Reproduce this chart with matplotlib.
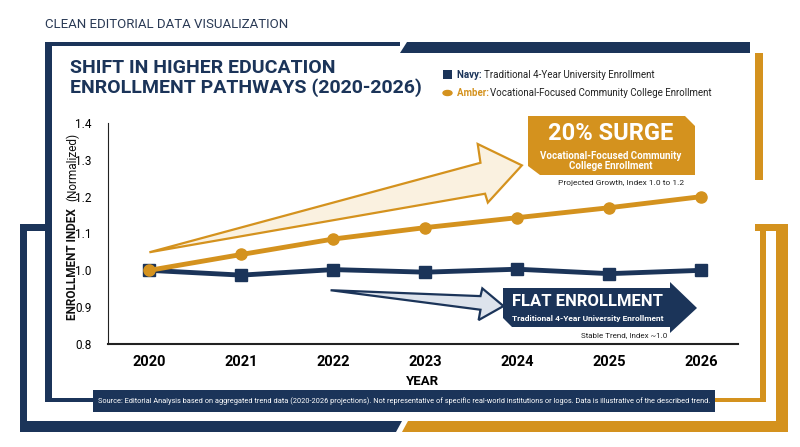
import matplotlib
matplotlib.use("Agg")
import matplotlib.pyplot as plt
from matplotlib.patches import Polygon, Rectangle

years = [2020, 2021, 2022, 2023, 2024, 2025, 2026]
navy_values = [1.000, 0.987, 1.002, 0.995, 1.003, 0.991, 1.000]
amber_values = [1.000, 1.043, 1.085, 1.116, 1.143, 1.170, 1.200]
y_ticks = [0.8, 0.9, 1.0, 1.1, 1.2, 1.3, 1.4]

NAVY = "#1b3459"
AMBER = "#d4921e"
plt.rcParams["font.family"] = ["Roboto", "DejaVu Sans"]

W, H = 800, 447
fig = plt.figure(figsize=(8, 4.47), dpi=100)


def fx(x):
    return x / W


def fy(y):
    return 1 - y / H


def fig_poly(pts, z=-1, **kw):
    fig.patches.append(Polygon([(fx(x), fy(y)) for x, y in pts], closed=True,
                               transform=fig.transFigure, zorder=z, **kw))


def fig_rect(x0, y0, x1, y1, color, z=-1):
    fig.patches.append(Rectangle((fx(x0), fy(y1)), (x1 - x0) / W, (y1 - y0) / H,
                                 transform=fig.transFigure, color=color, lw=0, zorder=z))


# frame pieces
fig_rect(45, 42, 400, 46, NAVY)
fig_poly([(407, 42), (750, 42), (750, 53), (400, 53)], facecolor=NAVY, lw=0)
fig_rect(45, 42, 52, 402, NAVY)
fig_rect(45, 398, 400, 402, NAVY)
fig_rect(755, 53, 763, 180, AMBER)
fig_rect(20, 224, 27, 432, NAVY)
fig_rect(20, 224, 45, 231, NAVY)
fig_poly([(20, 421), (402, 421), (396, 432), (20, 432)], facecolor=NAVY, lw=0)
fig_poly([(408, 421), (788, 421), (788, 432), (402, 432)], facecolor=AMBER, lw=0)
fig_rect(776, 224, 788, 432, AMBER)
fig_rect(755, 224, 788, 231, AMBER)
fig_rect(760, 231, 766, 402, AMBER)
fig_rect(620, 398, 766, 402, AMBER)

# header texts
fig.text(fx(45), fy(25), "CLEAN EDITORIAL DATA VISUALIZATION", color="#2a3a55",
         fontsize=9.5, va="center", ha="left")
fig.text(fx(70), fy(78), "SHIFT IN HIGHER EDUCATION\nENROLLMENT PATHWAYS (2020-2026)",
         color=NAVY, fontsize=14, fontweight="bold", va="center", ha="left",
         linespacing=1.05)

# legend
fig_rect(443, 70, 452, 79, NAVY, z=5)
fig.text(fx(457), fy(75), "Navy: ", color=NAVY, fontsize=7, fontweight="bold", va="center")
fig.text(fx(484), fy(75), "Traditional 4-Year University Enrollment", color="#222222",
         fontsize=7, va="center")
fig.patches.append(plt.Circle((fx(447.5), fy(93)), 4.5 / W, transform=fig.transFigure,
                              color=AMBER))
fig.text(fx(457), fy(93), "Amber: ", color=AMBER, fontsize=7, fontweight="bold", va="center")
fig.text(fx(490), fy(93), "Vocational-Focused Community College Enrollment", color="#222222",
         fontsize=7, va="center")

# main axes
ax = fig.add_axes([fx(108), fy(344), (738 - 108) / W, (344 - 123) / H])
ax.set_facecolor("none")
ax.set_xlim(2019.55, 2026.4)
ax.set_ylim(0.8, 1.4)
ax.set_yticks(y_ticks)
ax.set_yticklabels([f"{v:.1f}" for v in y_ticks], fontsize=8.5)
ax.set_xticks(years)
ax.set_xticklabels([str(y) for y in years], fontsize=10.5, fontweight="bold")
for s in ["top", "right"]:
    ax.spines[s].set_visible(False)
ax.spines["left"].set_color("#222222")
ax.spines["bottom"].set_color("#222222")
ax.spines["bottom"].set_linewidth(1.5)
ax.tick_params(length=0, pad=8)
ax.tick_params(axis="y", pad=12)
ax.set_xlabel("YEAR", fontsize=9.5, fontweight="bold", labelpad=4)

# annotation arrows (data coords)
amber_arrow = [(2020.0, 1.049), (2023.60, 1.292), (2023.57, 1.343), (2024.05, 1.285),
               (2023.68, 1.184), (2023.65, 1.208)]
ax.add_patch(Polygon(amber_arrow, closed=True, facecolor="#faf1e0", edgecolor=AMBER, lw=1.6,
                     zorder=1))
navy_arrow = [(2021.97, 0.946), (2023.60, 0.930), (2023.62, 0.951), (2023.85, 0.903),
              (2023.58, 0.865), (2023.60, 0.893)]
ax.add_patch(Polygon(navy_arrow, closed=True, facecolor="#dde3ec", edgecolor=NAVY, lw=1.6,
                     zorder=1))

ax.plot(years, navy_values, color=NAVY, lw=3.5, marker="s", markersize=8, zorder=3)
ax.plot(years, amber_values, color=AMBER, lw=3.5, marker="o", markersize=8, zorder=4)

# y label in two weights
fig.text(fx(73), fy(264), "ENROLLMENT INDEX", rotation=90, fontsize=8.5, fontweight="bold",
         color="#111111", ha="center", va="center")
fig.text(fx(73), fy(167), "(Normalized)", rotation=90, fontsize=8.5, color="#111111",
         ha="center", va="center")

# surge banner
fig_poly([(528, 116), (685, 116), (695, 126), (695, 175), (540, 175), (528, 166)],
         z=5, facecolor=AMBER, lw=0)
fig.text(fx(611), fy(134), "20% SURGE", color="white", fontsize=17, fontweight="bold",
         ha="center", va="center", zorder=6)
fig.text(fx(611), fy(161), "Vocational-Focused Community\nCollege Enrollment", color="white",
         fontsize=7, fontweight="bold", ha="center", va="center", linespacing=1.0, zorder=6)
fig.text(fx(684), fy(183), "Projected Growth, Index 1.0 to 1.2", color="#222222", fontsize=6,
         ha="right", va="center", zorder=6)

# flat banner
fig_poly([(503, 288), (670, 288), (670, 282), (697, 308), (670, 333), (670, 327),
          (512, 327), (503, 318)], z=5, facecolor=NAVY, lw=0)
fig.text(fx(588), fy(301), "FLAT ENROLLMENT", color="white", fontsize=12, fontweight="bold",
         ha="center", va="center", zorder=6)
fig.text(fx(588), fy(318), "Traditional 4-Year University Enrollment", color="white",
         fontsize=6, fontweight="bold", ha="center", va="center", zorder=6)
fig.text(fx(667), fy(335), "Stable Trend, Index ~1.0", color="#222222", fontsize=5.8,
         ha="right", va="center", zorder=6)

# source box
fig_rect(93, 390, 715, 412, NAVY, z=5)
fig.text(fx(404), fy(401),
         "Source: Editorial Analysis based on aggregated trend data (2020-2026 projections). "
         "Not representative of specific real-world institutions or logos. "
         "Data is illustrative of the described trend.",
         color="white", fontsize=5.3, ha="center", va="center", zorder=6)

fig.savefig("out.png", dpi=100, facecolor="white")
